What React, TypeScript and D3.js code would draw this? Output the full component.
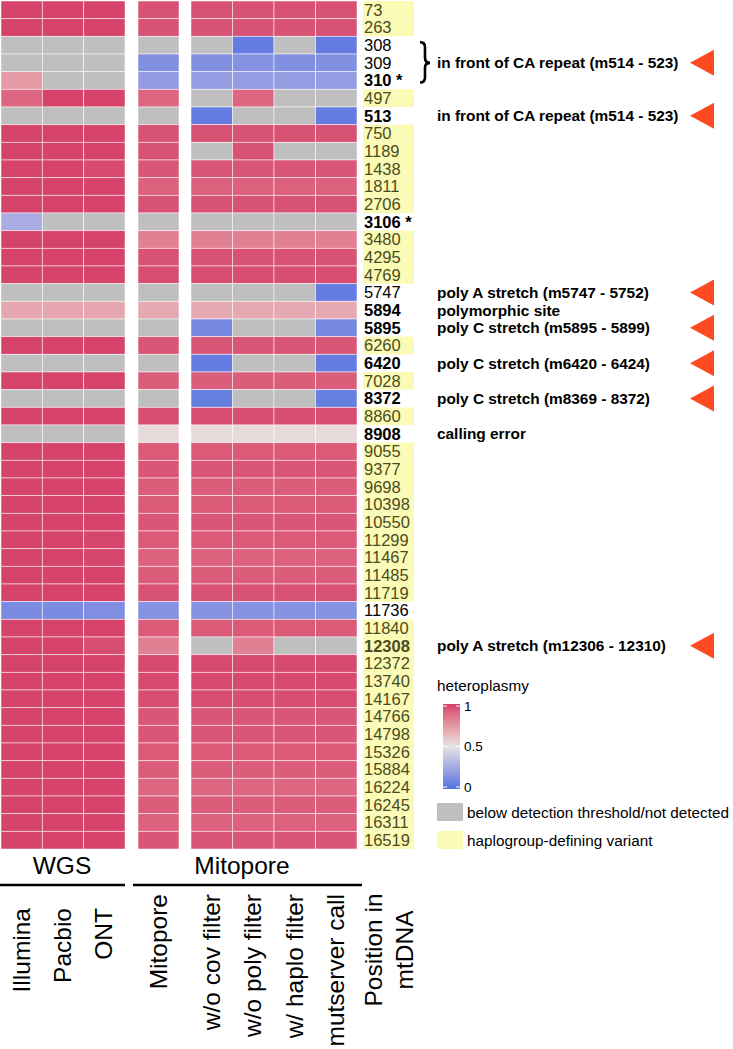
import React from 'react';
import * as d3 from 'd3';

// rows of the heatmap (position in mtDNA)
const positions = ['73', '263', '308', '309', '310', '497', '513', '750', '1189', '1438', '1811', '2706', '3106', '3480', '4295', '4769', '5747', '5894', '5895', '6260', '6420', '7028', '8372', '8860', '8908', '9055', '9377', '9698', '10398', '10550', '11299', '11467', '11485', '11719', '11736', '11840', '12308', '12372', '13740', '14167', '14766', '14798', '15326', '15884', '16224', '16245', '16311', '16519'];

// haplogroup-defining variants (yellow)
const haplogroup = ['73', '263', '497', '750', '1189', '1438', '1811', '2706', '3480', '4295', '4769', '6260', '7028', '8860', '9055', '9377', '9698', '10398', '10550', '11299', '11467', '11485', '11719', '11840', '12308', '12372', '13740', '14167', '14766', '14798', '15326', '15884', '16224', '16245', '16311', '16519'];
const boldRows = ['310', '513', '3106', '5894', '5895', '6420', '8372', '8908', '12308'];
const starRows = ['310', '3106'];

const N = null;
// heteroplasmy per method, null = below detection threshold / not detected
const illumina = [0.99, 0.99, N, N, 0.74, 0.90, N, 0.99, 0.99, 0.99, 0.99, 0.99, 0.27, 0.99, 0.99, 0.99, N, 0.70, N, 0.99, N, 0.99, N, 0.99, N, 0.99, 0.99, 0.99, 0.99, 0.99, 0.99, 0.99, 0.99, 0.99, 0.12, 0.99, 0.99, 0.99, 0.99, 0.99, 0.99, 0.99, 0.99, 0.99, 0.99, 0.99, 0.99, 0.99];
const pacbio = [0.99, 0.99, N, N, N, 0.99, N, 0.99, 0.99, 0.99, 0.99, 0.99, N, 0.99, 0.99, 0.99, N, 0.70, N, 0.99, N, 0.99, N, 0.99, N, 0.99, 0.99, 0.99, 0.99, 0.99, 0.99, 0.99, 0.99, 0.99, 0.12, 0.99, 0.99, 0.99, 0.99, 0.99, 0.99, 0.99, 0.99, 0.99, 0.99, 0.99, 0.99, 0.99];
const ont = [0.99, 0.99, N, N, N, 0.99, N, 0.99, 0.99, 0.97, 0.99, 0.99, N, 0.99, 0.99, 0.99, N, 0.70, N, 0.99, N, 0.99, N, 0.99, N, 0.99, 0.99, 0.99, 0.99, 0.99, 0.98, 0.98, 0.99, 0.99, 0.13, 0.99, 0.96, 0.99, 0.99, 0.99, 0.99, 0.99, 0.99, 0.99, 0.99, 0.99, 0.99, 0.99];
const mitopore = [0.95, 0.95, N, 0.14, 0.19, 0.90, N, 0.95, 0.95, 0.94, 0.91, 0.95, N, 0.82, 0.95, 0.96, N, 0.69, N, 0.94, N, 0.92, N, 0.96, 0.53, 0.93, 0.94, 0.92, 0.93, 0.94, 0.93, 0.91, 0.92, 0.95, 0.15, 0.93, 0.82, 0.97, 0.97, 0.96, 0.94, 0.94, 0.93, 0.92, 0.90, 0.92, 0.91, 0.94];
const woCov = [0.95, 0.95, N, 0.14, 0.20, N, 0.05, 0.95, N, 0.94, 0.91, 0.95, N, 0.82, 0.95, 0.96, N, 0.69, 0.10, 0.94, 0.05, 0.92, 0.06, 0.96, 0.53, 0.93, 0.94, 0.92, 0.93, 0.94, 0.93, 0.91, 0.92, 0.95, 0.15, 0.93, N, 0.97, 0.97, 0.96, 0.94, 0.94, 0.93, 0.92, 0.90, 0.92, 0.91, 0.94];
const woPoly = [0.95, 0.95, 0.05, 0.15, 0.20, 0.90, N, 0.95, 0.95, 0.94, 0.91, 0.95, N, 0.82, 0.95, 0.96, N, 0.69, N, 0.94, N, 0.92, N, 0.96, 0.53, 0.93, 0.94, 0.92, 0.93, 0.94, 0.93, 0.91, 0.92, 0.95, 0.15, 0.93, 0.82, 0.97, 0.97, 0.96, 0.94, 0.94, 0.93, 0.92, 0.90, 0.92, 0.91, 0.94];
const wHaplo = [0.95, 0.95, N, 0.14, 0.20, N, N, 0.95, N, 0.94, 0.91, 0.95, N, 0.82, 0.95, 0.96, N, 0.69, N, 0.94, N, 0.92, N, 0.96, 0.53, 0.93, 0.94, 0.92, 0.93, 0.94, 0.93, 0.91, 0.92, 0.95, 0.15, 0.93, N, 0.97, 0.97, 0.96, 0.94, 0.94, 0.93, 0.92, 0.90, 0.92, 0.91, 0.94];
const mutserver = [0.95, 0.95, 0.05, 0.14, 0.20, N, 0.05, 0.95, N, 0.94, 0.91, 0.95, N, 0.82, 0.95, 0.96, 0.05, 0.69, 0.10, 0.94, 0.05, 0.92, 0.06, 0.96, 0.53, 0.93, 0.94, 0.92, 0.93, 0.94, 0.93, 0.91, 0.92, 0.95, 0.15, 0.93, N, 0.97, 0.97, 0.96, 0.94, 0.94, 0.93, 0.92, 0.90, 0.92, 0.91, 0.94];

// panels and their columns
const wgsColumns = ['Illumina', 'Pacbio', 'ONT'];
const mitoColumns = ['Mitopore'];
const filterColumns = ['w/o cov filter', 'w/o poly filter', 'w/ haplo filter', 'mutserver call'];
const columnValues = {
  'Illumina': illumina, 'Pacbio': pacbio, 'ONT': ont, 'Mitopore': mitopore,
  'w/o cov filter': woCov, 'w/o poly filter': woPoly, 'w/ haplo filter': wHaplo, 'mutserver call': mutserver
};

// annotations on the right
const notes = [
  { pos: '309', text: 'in front of CA repeat (m514 - 523)', arrow: true },
  { pos: '513', text: 'in front of CA repeat (m514 - 523)', arrow: true },
  { pos: '5747', text: 'poly A stretch (m5747 - 5752)', arrow: true },
  { pos: '5894', text: 'polymorphic site', arrow: false },
  { pos: '5895', text: 'poly C stretch (m5895 - 5899)', arrow: true },
  { pos: '6420', text: 'poly C stretch (m6420 - 6424)', arrow: true },
  { pos: '8372', text: 'poly C stretch (m8369 - 8372)', arrow: true },
  { pos: '8908', text: 'calling error', arrow: false },
  { pos: '12308', text: 'poly A stretch (m12306 - 12310)', arrow: true }
];
const legendTicks = [0, 0.5, 1];

const FONT = '"Liberation Sans", Arial, Helvetica, sans-serif';
const NA_FILL = '#BFBFBF';
const YELLOW = '#FBFBB5';
const OLIVE = '#4B4B1E';

const App = () => {
  const width = 733;
  const height = 1049;

  const yScale = d3.scaleBand().domain(positions).range([1, 849]);
  const xWgs = d3.scaleBand().domain(wgsColumns).range([1, 125]);
  const xMito = d3.scaleBand().domain(mitoColumns).range([138, 179]);
  const xFilt = d3.scaleBand().domain(filterColumns).range([191, 357]);
  const panels = [
    { scale: xWgs, cols: wgsColumns },
    { scale: xMito, cols: mitoColumns },
    { scale: xFilt, cols: filterColumns }
  ];

  const color = d3.scaleLinear<string>()
    .domain([0, 0.5, 1])
    .range(['#4F72E0', '#E6E3E3', '#D43D68'])
    .interpolate(d3.interpolateLab);

  const cells = panels.flatMap(p => p.cols.flatMap(c =>
    positions.map((pos, i) => {
      const v = columnValues[c][i];
      return (
        <rect
          key={c + pos}
          x={p.scale(c)}
          y={yScale(pos)}
          width={p.scale.bandwidth()}
          height={yScale.bandwidth()}
          fill={v === null ? NA_FILL : color(v)}
          stroke="#ffffff"
          strokeOpacity={0.65}
          strokeWidth={0.8}
        />
      );
    })
  ));

  const rowCenter = (pos: string) => (yScale(pos) as number) + yScale.bandwidth() / 2;

  const rowLabels = positions.map(pos => {
    const hap = haplogroup.includes(pos);
    const bold = boldRows.includes(pos);
    return (
      <g key={'lab' + pos}>
        {hap && <rect x={363} y={yScale(pos)} width={51} height={yScale.bandwidth()} fill={YELLOW} />}
        <text x={364} y={rowCenter(pos)} dy="0.36em" fontSize={16.5} fontWeight={bold ? 'bold' : 'normal'}
          fill={hap ? OLIVE : '#000'}>
          {pos + (starRows.includes(pos) ? ' *' : '')}
        </text>
      </g>
    );
  });

  const noteMarks = notes.map(n => {
    const cy = rowCenter(n.pos);
    return (
      <g key={'note' + n.pos}>
        <text x={437} y={cy} dy="0.36em" fontSize={15.4} fontWeight="bold">{n.text}</text>
        {n.arrow && <path d={`M714,${cy - 13}L714,${cy + 13}L690,${cy}Z`} fill="#FF4A22" />}
      </g>
    );
  });

  // curly brace grouping 308-310
  const bTop = rowCenter('308') - 3;
  const bBot = rowCenter('310') + 2;
  const bMid = rowCenter('309');
  const brace = `M420,${bTop} Q425,${bTop} 425,${bTop + 5} L425,${bMid - 5} Q425,${bMid} 430,${bMid} Q425,${bMid} 425,${bMid + 5} L425,${bBot - 5} Q425,${bBot} 420,${bBot}`;

  // legend colorbar
  const barScale = d3.scaleLinear().domain([0, 1]).range([787, 706]);
  const gradStops = d3.range(0, 1.01, 0.1);

  const bottomLabels = [
    ...wgsColumns.map(c => ({ c, x: (xWgs(c) as number) + xWgs.bandwidth() / 2, top: 908 })),
    ...mitoColumns.map(c => ({ c, x: (xMito(c) as number) + xMito.bandwidth() / 2, top: 894 })),
    ...filterColumns.map(c => ({ c, x: (xFilt(c) as number) + xFilt.bandwidth() / 2, top: 894 }))
  ];

  return (
    <svg width={width} height={height} style={{ position: 'absolute', left: 0, top: 0, background: '#fff' }}
      fontFamily={FONT}>
      <defs>
        <linearGradient id="hetGrad" x1="0" y1="1" x2="0" y2="0">
          {gradStops.map(t => <stop key={t} offset={t} stopColor={color(t)} />)}
        </linearGradient>
      </defs>

      <g>{cells}</g>
      <g>{rowLabels}</g>
      <g>{noteMarks}</g>
      <path d={brace} fill="none" stroke="#000" strokeWidth={2.6} />

      {/* legend */}
      <text x={437} y={691} fontSize={15.3}>heteroplasmy</text>
      <rect x={443} y={barScale(1) - 2} width={17} height={barScale(0) - barScale(1) + 4} fill="url(#hetGrad)" />
      {legendTicks.map(t => (
        <g key={'tick' + t}>
          <line x1={443} x2={447} y1={barScale(t)} y2={barScale(t)} stroke="#fff" strokeWidth={1} />
          <line x1={456} x2={460} y1={barScale(t)} y2={barScale(t)} stroke="#fff" strokeWidth={1} />
          <text x={464} y={barScale(t)} dy="0.36em" fontSize={13.5}>{t}</text>
        </g>
      ))}
      <rect x={437} y={803} width={26} height={18} fill={NA_FILL} />
      <text x={467} y={812} dy="0.36em" fontSize={15.3}>below detection threshold/not detected</text>
      <rect x={437} y={831} width={26} height={18} fill={YELLOW} />
      <text x={467} y={840} dy="0.36em" fontSize={15.3}>haplogroup-defining variant</text>

      {/* group headers */}
      <text x={62} y={874} textAnchor="middle" fontSize={24.5}>WGS</text>
      <text x={242} y={874} textAnchor="middle" fontSize={24.5}>Mitopore</text>
      <line x1={0} x2={125} y1={885} y2={885} stroke="#000" strokeWidth={2.6} />
      <line x1={133} x2={362} y1={885} y2={885} stroke="#000" strokeWidth={2.6} />

      {bottomLabels.map(d => (
        <text key={'bl' + d.c} transform={`translate(${d.x + 8},${d.top}) rotate(-90)`}
          textAnchor="end" fontSize={24.5}>{d.c}</text>
      ))}
      <g transform="translate(382,950) rotate(-90)">
        <text x={0} y={0} textAnchor="middle" fontSize={24.5}>Position in</text>
        <text x={0} y={31} textAnchor="middle" fontSize={24.5}>mtDNA</text>
      </g>
    </svg>
  );
};

export default App;
